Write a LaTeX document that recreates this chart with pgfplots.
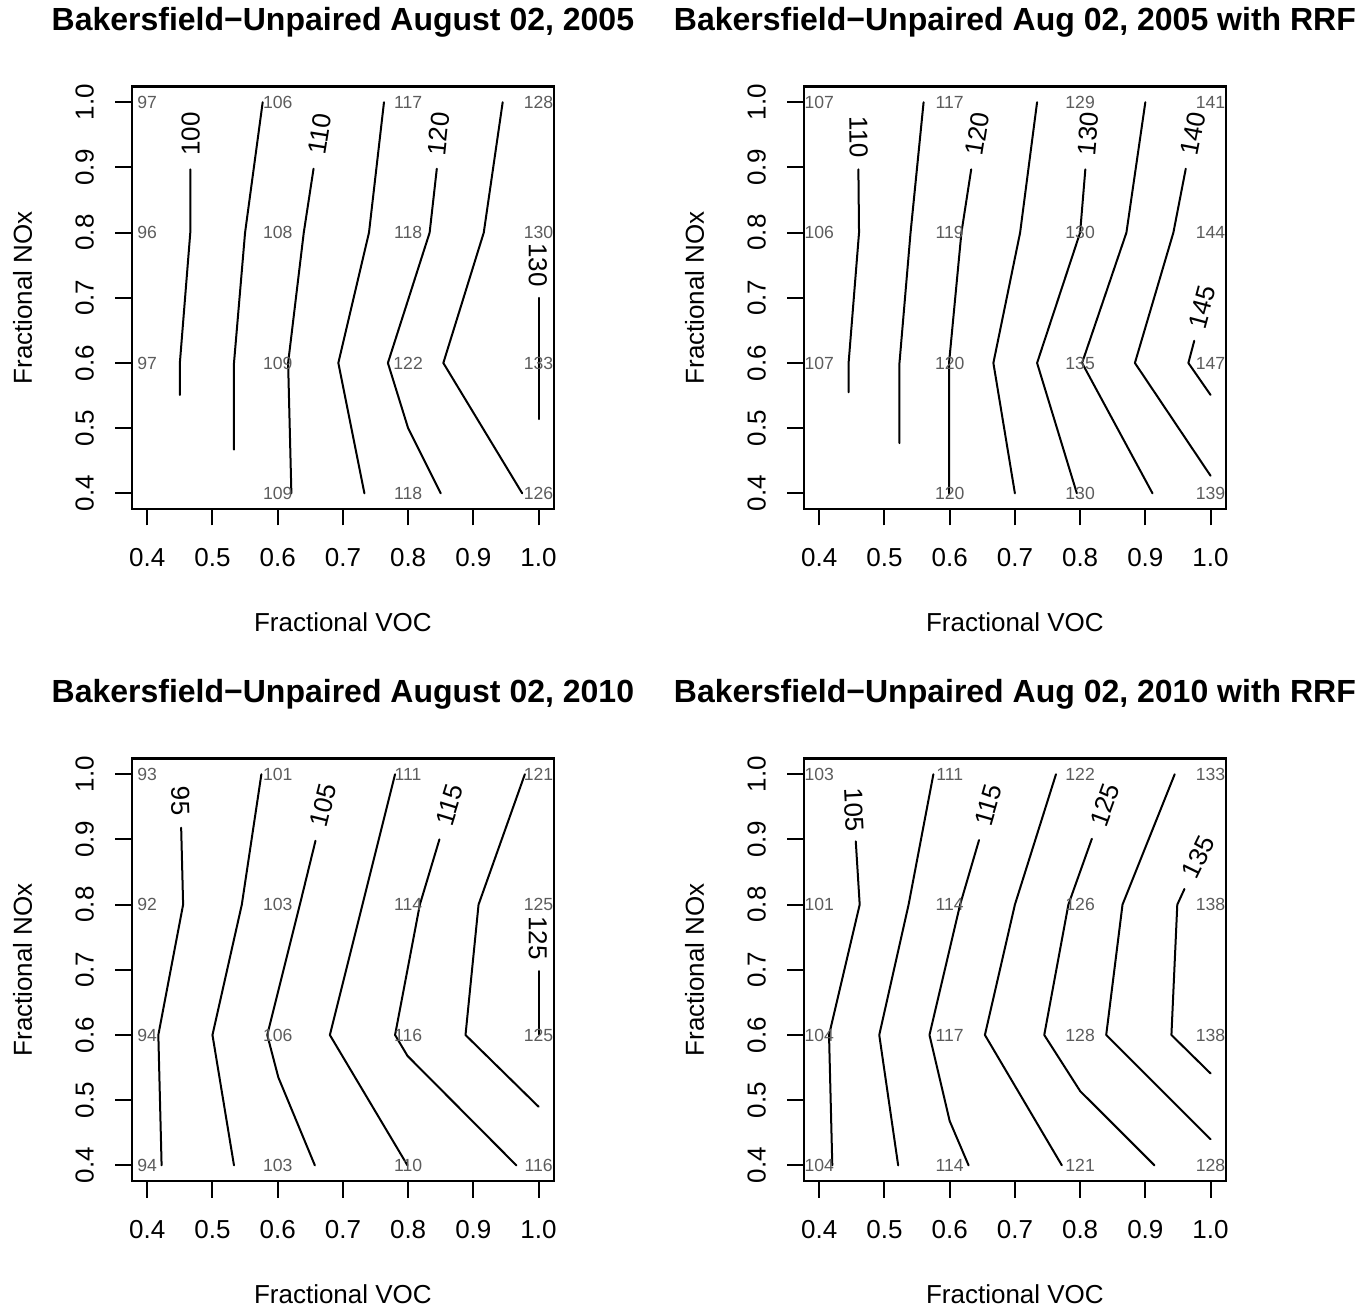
\documentclass[border=0pt]{standalone}
\usepackage{fontspec}
\setmainfont{Liberation Sans}
\usepackage{pgfplots}
\pgfplotsset{compat=1.18}
\newcommand\axisfont{\fontsize{13bp}{15.6bp}\selectfont}
\newcommand\titlefont{\fontsize{16bp}{19bp}\selectfont\bfseries}
\newcommand\gridfont{\fontsize{8.8bp}{10.5bp}\selectfont}
\newcommand\clabfont{\fontsize{13bp}{15bp}\selectfont}
\definecolor{gridlab}{gray}{0.36}
\pgfplotsset{
  cplot/.style={
    width=211.3bp, height=211.2bp, scale only axis,
    xmin=0.376, xmax=1.024, ymin=0.376, ymax=1.024,
    xtick={0.4,0.5,0.6,0.7,0.8,0.9,1.0},
    ytick={0.4,0.5,0.6,0.7,0.8,0.9,1.0},
    xticklabels={0.4,0.5,0.6,0.7,0.8,0.9,1.0},
    yticklabels={0.4,0.5,0.6,0.7,0.8,0.9,1.0},
    tick pos=left, tick align=outside, major tick length=8.25bp,
    every tick/.style={black, line width=1bp},
    axis line style={line width=1.1bp},
    ticklabel style={font=\axisfont},
    xticklabel style={anchor=center},
    yticklabel style={anchor=center, rotate=90},
    xticklabel shift=16.25bp,
    yticklabel shift=15.25bp,
    clip=false,
    xlabel={Fractional VOC}, ylabel={Fractional NOx},
    label style={font=\axisfont},
    xlabel style={at={(axis description cs:0.5,-0.2675)}, anchor=center},
    ylabel style={at={(axis description cs:-0.258,0.5)}, anchor=center},
    title style={at={(axis description cs:0.5,1.1245)}, anchor=center, font=\titlefont},
  },
  cl/.style={black, line width=1bp, mark=none, line cap=round, line join=round},
  gl/.style={only marks, mark=none, nodes near coords, point meta=explicit symbolic,
    nodes near coords style={anchor=center, font=\gridfont, text=gridlab, inner sep=0pt}},
}
\begin{document}
\begin{tikzpicture}
\useasboundingbox (0,0) rectangle (684bp,653bp);
% ---------------- Panel 1 ----------------
\begin{axis}[cplot, at={(65.8bp,398.5bp)}, anchor=south west,
  title={Bakersfield−Unpaired August 02, 2005}]
\addplot[gl] table[meta=v] {
x y v
0.4 1.0 97
0.6 1.0 106
0.8 1.0 117
1.0 1.0 128
0.4 0.8 96
0.6 0.8 108
0.8 0.8 118
1.0 0.8 130
0.4 0.6 97
0.6 0.6 109
0.8 0.6 122
1.0 0.6 133
0.6 0.4 109
0.8 0.4 118
1.0 0.4 126
};
\addplot[cl] coordinates {(0.466,0.897) (0.466,0.800) (0.450,0.600) (0.450,0.551)};
\addplot[cl] coordinates {(0.577,1.000) (0.550,0.800) (0.533,0.600) (0.533,0.467)};
\addplot[cl] coordinates {(0.655,0.898) (0.640,0.800) (0.616,0.600) (0.621,0.400)};
\addplot[cl] coordinates {(0.763,1.000) (0.740,0.800) (0.693,0.600) (0.733,0.400)};
\addplot[cl] coordinates {(0.844,0.898) (0.833,0.800) (0.769,0.600) (0.800,0.500) (0.850,0.400)};
\addplot[cl] coordinates {(0.945,1.000) (0.916,0.800) (0.854,0.600) (0.975,0.400)};
\addplot[cl] coordinates {(1.000,0.700) (1.000,0.514)};
\node[rotate=90, font=\clabfont, inner sep=0pt] at (axis cs:0.4664,0.9511) {100};
\node[rotate=81, font=\clabfont, inner sep=0pt] at (axis cs:0.6646,0.9511) {110};
\node[rotate=84, font=\clabfont, inner sep=0pt] at (axis cs:0.8469,0.9511) {120};
\node[rotate=-90, font=\clabfont, inner sep=0pt] at (axis cs:0.999,0.7503) {130};
\end{axis}
% ---------------- Panel 2 ----------------
\begin{axis}[cplot, at={(401.8bp,398.5bp)}, anchor=south west,
  title={Bakersfield−Unpaired Aug 02, 2005 with RRF}]
\addplot[gl] table[meta=v] {
x y v
0.4 1.0 107
0.6 1.0 117
0.8 1.0 129
1.0 1.0 141
0.4 0.8 106
0.6 0.8 119
0.8 0.8 130
1.0 0.8 144
0.4 0.6 107
0.6 0.6 120
0.8 0.6 135
1.0 0.6 147
0.6 0.4 120
0.8 0.4 130
1.0 0.4 139
};
\addplot[cl] coordinates {(0.460,0.897) (0.461,0.800) (0.445,0.600) (0.445,0.555)};
\addplot[cl] coordinates {(0.560,1.000) (0.540,0.800) (0.523,0.600) (0.523,0.477)};
\addplot[cl] coordinates {(0.633,0.897) (0.618,0.800) (0.599,0.600) (0.599,0.400)};
\addplot[cl] coordinates {(0.734,1.000) (0.708,0.800) (0.667,0.600) (0.700,0.400)};
\addplot[cl] coordinates {(0.808,0.897) (0.800,0.800) (0.734,0.600) (0.795,0.400)};
\addplot[cl] coordinates {(0.900,1.000) (0.871,0.800) (0.803,0.600) (0.911,0.400)};
\addplot[cl] coordinates {(0.962,0.898) (0.943,0.800) (0.884,0.600) (1.000,0.427)};
\addplot[cl] coordinates {(0.975,0.634) (0.966,0.600) (1.000,0.551)};
\node[rotate=-89, font=\clabfont, inner sep=0pt] at (axis cs:0.4603,0.9465) {110};
\node[rotate=81, font=\clabfont, inner sep=0pt] at (axis cs:0.6426,0.9516) {120};
\node[rotate=85, font=\clabfont, inner sep=0pt] at (axis cs:0.8127,0.9516) {130};
\node[rotate=79, font=\clabfont, inner sep=0pt] at (axis cs:0.9735,0.9516) {140};
\node[rotate=75, font=\clabfont, inner sep=0pt] at (axis cs:0.9873,0.685) {145};
\end{axis}
% ---------------- Panel 3 ----------------
\begin{axis}[cplot, at={(65.8bp,62.5bp)}, anchor=south west,
  title={Bakersfield−Unpaired August 02, 2010}]
\addplot[gl] table[meta=v] {
x y v
0.4 1.0 93
0.6 1.0 101
0.8 1.0 111
1.0 1.0 121
0.4 0.8 92
0.6 0.8 103
0.8 0.8 114
1.0 0.8 125
0.4 0.6 94
0.6 0.6 106
0.8 0.6 116
1.0 0.6 125
0.4 0.4 94
0.6 0.4 103
0.8 0.4 110
1.0 0.4 116
};
\addplot[cl] coordinates {(0.452,0.918) (0.455,0.800) (0.417,0.600) (0.422,0.400)};
\addplot[cl] coordinates {(0.575,1.000) (0.545,0.800) (0.500,0.600) (0.533,0.400)};
\addplot[cl] coordinates {(0.658,0.898) (0.634,0.800) (0.584,0.600) (0.601,0.535) (0.657,0.400)};
\addplot[cl] coordinates {(0.780,1.000) (0.680,0.600) (0.799,0.400)};
\addplot[cl] coordinates {(0.848,0.900) (0.818,0.800) (0.780,0.600) (0.799,0.568) (0.966,0.400)};
\addplot[cl] coordinates {(0.979,1.000) (0.908,0.800) (0.888,0.600) (1.000,0.490)};
\addplot[cl] coordinates {(1.000,0.698) (1.000,0.601)};
\node[rotate=-88, font=\clabfont, inner sep=0pt] at (axis cs:0.4511,0.9592) {95};
\node[rotate=76, font=\clabfont, inner sep=0pt] at (axis cs:0.6697,0.9526) {105};
\node[rotate=73, font=\clabfont, inner sep=0pt] at (axis cs:0.8637,0.9526) {115};
\node[rotate=-90, font=\clabfont, inner sep=0pt] at (axis cs:0.999,0.7487) {125};
\end{axis}
% ---------------- Panel 4 ----------------
\begin{axis}[cplot, at={(401.8bp,62.5bp)}, anchor=south west,
  title={Bakersfield−Unpaired Aug 02, 2010 with RRF}]
\addplot[gl] table[meta=v] {
x y v
0.4 1.0 103
0.6 1.0 111
0.8 1.0 122
1.0 1.0 133
0.4 0.8 101
0.6 0.8 114
0.8 0.8 126
1.0 0.8 138
0.4 0.6 104
0.6 0.6 117
0.8 0.6 128
1.0 0.6 138
0.4 0.4 104
0.6 0.4 114
0.8 0.4 121
1.0 0.4 128
};
\addplot[cl] coordinates {(0.456,0.897) (0.462,0.800) (0.415,0.600) (0.420,0.400)};
\addplot[cl] coordinates {(0.575,1.000) (0.537,0.800) (0.492,0.600) (0.521,0.400)};
\addplot[cl] coordinates {(0.645,0.899) (0.616,0.800) (0.569,0.600) (0.600,0.468) (0.629,0.400)};
\addplot[cl] coordinates {(0.763,1.000) (0.700,0.800) (0.654,0.600) (0.772,0.400)};
\addplot[cl] coordinates {(0.818,0.901) (0.782,0.800) (0.745,0.600) (0.800,0.514) (0.914,0.400)};
\addplot[cl] coordinates {(0.945,1.000) (0.865,0.800) (0.840,0.600) (1.000,0.440)};
\addplot[cl] coordinates {(0.960,0.824) (0.949,0.800) (0.940,0.600) (1.000,0.541)};
\node[rotate=-87, font=\clabfont, inner sep=0pt] at (axis cs:0.4536,0.945) {105};
\node[rotate=74, font=\clabfont, inner sep=0pt] at (axis cs:0.6594,0.9526) {115};
\node[rotate=70, font=\clabfont, inner sep=0pt] at (axis cs:0.8382,0.9526) {125};
\node[rotate=64, font=\clabfont, inner sep=0pt] at (axis cs:0.9812,0.8736) {135};
\end{axis}
\end{tikzpicture}
\end{document}
